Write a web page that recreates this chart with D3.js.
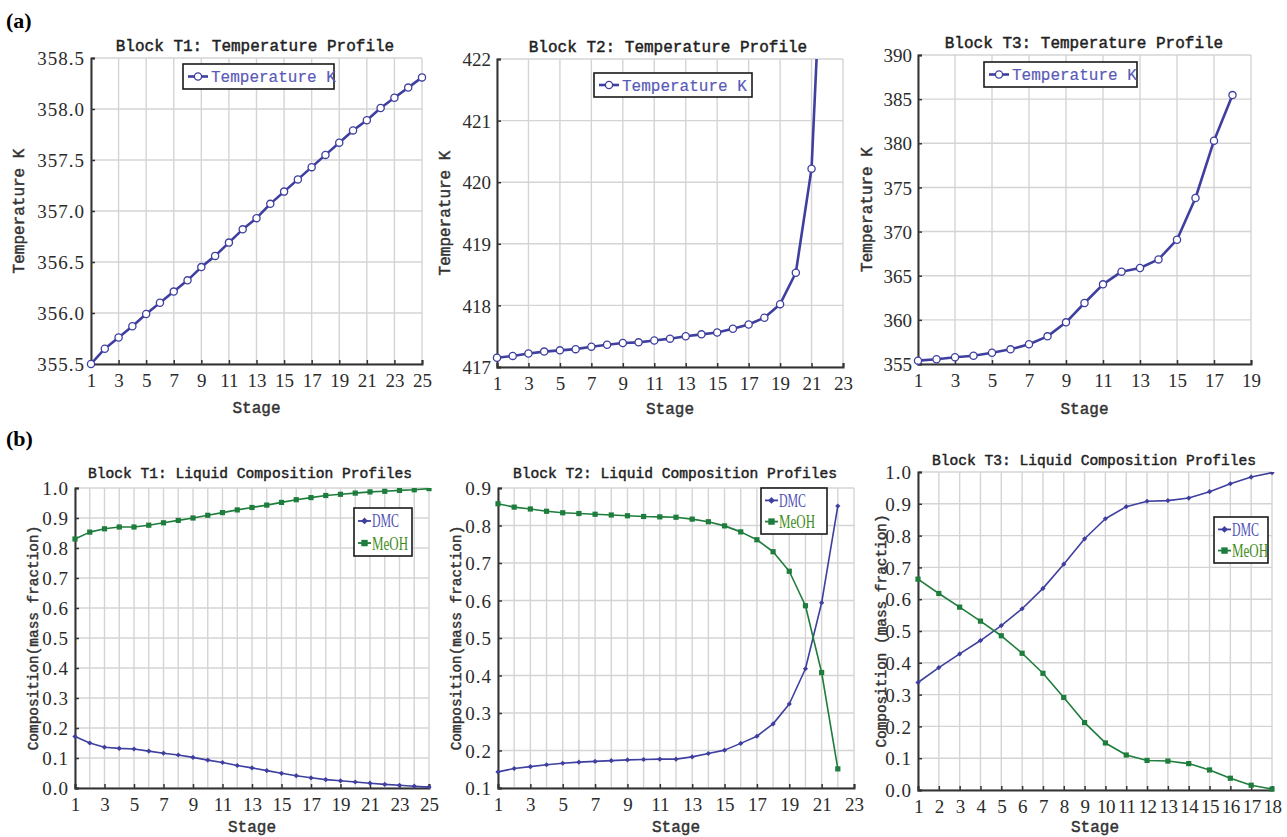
<!DOCTYPE html>
<html>
<head>
<meta charset="utf-8">
<script src="https://cdn.jsdelivr.net/npm/d3@7"></script>
<style>
  body { margin: 0; background: #fff; }
  svg { display: block; }
</style>
</head>
<body>
<div id="graf"></div>
<script>
// stages
var stagesT1 = d3.range(1, 26),
    stagesT2 = d3.range(1, 23),
    stagesT3 = d3.range(1, 19);

// temperature profiles (K)
var tempT1 = [355.50, 355.65, 355.76, 355.87, 355.99, 356.10, 356.21, 356.32, 356.45, 356.56,
              356.69, 356.82, 356.93, 357.07, 357.19, 357.31, 357.43, 357.55, 357.67, 357.79,
              357.89, 358.01, 358.11, 358.21, 358.31];
var tempT2 = [417.15, 417.18, 417.22, 417.25, 417.27, 417.29, 417.33, 417.36, 417.39, 417.40,
              417.43, 417.46, 417.50, 417.53, 417.56, 417.62, 417.69, 417.80, 418.02, 418.53,
              420.22, 425.80];
var tempT3 = [355.38, 355.53, 355.76, 355.94, 356.28, 356.66, 357.23, 358.13, 359.72, 361.91,
              364.02, 365.46, 365.87, 366.85, 369.08, 373.80, 380.30, 385.46];

// liquid composition (mass fraction)
var dmcT1  = [0.172, 0.150, 0.136, 0.132, 0.130, 0.123, 0.116, 0.110, 0.102, 0.093,
              0.085, 0.075, 0.067, 0.058, 0.049, 0.041, 0.034, 0.028, 0.024, 0.020,
              0.016, 0.012, 0.009, 0.006, 0.003];
var meohT1 = [0.830, 0.853, 0.864, 0.870, 0.870, 0.876, 0.884, 0.892, 0.900, 0.909,
              0.918, 0.927, 0.935, 0.943, 0.952, 0.961, 0.968, 0.975, 0.979, 0.983,
              0.987, 0.989, 0.992, 0.994, 0.998];
var dmcT2  = [0.143, 0.152, 0.157, 0.162, 0.166, 0.169, 0.171, 0.173, 0.175, 0.176,
              0.177, 0.177, 0.183, 0.192, 0.201, 0.219, 0.238, 0.271, 0.324, 0.418,
              0.594, 0.852];
var meohT2 = [0.858, 0.849, 0.844, 0.838, 0.834, 0.832, 0.830, 0.828, 0.826, 0.824,
              0.823, 0.822, 0.817, 0.810, 0.799, 0.783, 0.762, 0.730, 0.678, 0.586,
              0.408, 0.151];
var dmcT3  = [0.338, 0.385, 0.428, 0.470, 0.517, 0.570, 0.634, 0.710, 0.790, 0.853,
              0.891, 0.908, 0.910, 0.918, 0.938, 0.963, 0.984, 0.998];
var meohT3 = [0.663, 0.618, 0.575, 0.531, 0.485, 0.430, 0.367, 0.291, 0.212, 0.148,
              0.110, 0.093, 0.091, 0.083, 0.063, 0.037, 0.015, 0.003];

var azul = "#3f3fa0",
    verde = "#1e7d3c",
    fonteMono = "'Liberation Mono', 'Courier New', monospace",
    fonteSerif = "'Liberation Serif', 'Times New Roman', serif";

var svg = d3.select("#graf").append("svg")
    .attr("width", 1287)
    .attr("height", 837);

var paineis = [
    {id: "p1", titulo: "Block T1: Temperature Profile", yTitulo: "Temperature K",
     box: [91, 58, 422, 364], xDom: [1, 25], xPasso: 2, gridX: 2, yDom: [355.5, 358.5], yPasso: 0.5, fmt: ".1f",
     tituloX: 255, tituloY: 51, yTituloX: 18, stageY: 413,
     series: [{nome: "Temperature K", x: stagesT1, y: tempT1, cor: azul, marca: "circulo"}],
     legenda: {x: 183, y: 64, w: 151, h: 25, tipo: "topo"}},
    {id: "p2", titulo: "Block T2: Temperature Profile", yTitulo: "Temperature K",
     box: [497, 59, 843, 367], xDom: [1, 23], xPasso: 2, gridX: 2, yDom: [417, 422], yPasso: 1, fmt: "d",
     tituloX: 668, tituloY: 52, yTituloX: 444, stageY: 414,
     series: [{nome: "Temperature K", x: stagesT2, y: tempT2, cor: azul, marca: "circulo"}],
     legenda: {x: 594, y: 73, w: 158, h: 24, tipo: "topo"}},
    {id: "p3", titulo: "Block T3: Temperature Profile", yTitulo: "Temperature K",
     box: [918, 55, 1251, 364], xDom: [1, 19], xPasso: 2, gridX: 2, yDom: [355, 390], yPasso: 5, fmt: "d",
     tituloX: 1084, tituloY: 48, yTituloX: 866, stageY: 414,
     series: [{nome: "Temperature K", x: stagesT3, y: tempT3, cor: azul, marca: "circulo"}],
     legenda: {x: 984, y: 62, w: 153, h: 25, tipo: "topo"}},
    {id: "p4", titulo: "Block T1: Liquid Composition Profiles", yTitulo: "Composition(mass fraction)",
     box: [75, 488, 429, 788], xDom: [1, 25], xPasso: 2, gridX: 1, yDom: [0, 1], yPasso: 0.1, fmt: ".1f",
     tituloX: 250, tituloY: 478, yTituloX: 33, stageY: 832,
     series: [{nome: "DMC", x: stagesT1, y: dmcT1, cor: azul, marca: "losango"},
              {nome: "MeOH", x: stagesT1, y: meohT1, cor: verde, marca: "quadrado"}],
     legenda: {x: 354, y: 508, w: 58, h: 48, tipo: "baixo"}},
    {id: "p5", titulo: "Block T2: Liquid Composition Profiles", yTitulo: "Composition(mass fraction)",
     box: [498, 488, 854, 788], xDom: [1, 23], xPasso: 2, gridX: 1, yDom: [0.1, 0.9], yPasso: 0.1, fmt: ".1f",
     tituloX: 675, tituloY: 478, yTituloX: 456, stageY: 832,
     series: [{nome: "DMC", x: stagesT2, y: dmcT2, cor: azul, marca: "losango"},
              {nome: "MeOH", x: stagesT2, y: meohT2, cor: verde, marca: "quadrado"}],
     legenda: {x: 761, y: 488, w: 66, h: 46, tipo: "baixo"}},
    {id: "p6", titulo: "Block T3: Liquid Composition Profiles", yTitulo: "Composition (mass fraction)",
     box: [918, 472, 1272, 790], xDom: [1, 18], xPasso: 1, gridX: 1, yDom: [0, 1], yPasso: 0.1, fmt: ".1f",
     tituloX: 1094, tituloY: 465, yTituloX: 881, stageY: 832,
     series: [{nome: "DMC", x: stagesT3, y: dmcT3, cor: azul, marca: "losango"},
              {nome: "MeOH", x: stagesT3, y: meohT3, cor: verde, marca: "quadrado"}],
     legenda: {x: 1214, y: 517, w: 54, h: 46, tipo: "baixo"}}
];

function passos(dom, passo) {
    var n = Math.round((dom[1] - dom[0]) / passo);
    return d3.range(n + 1).map(function(i) { return +(dom[0] + i * passo).toFixed(4); });
}

function desenhaMarca(g, tipo, cx, cy, cor, grande) {
    if (tipo == "circulo") {
        g.append("circle").attr("cx", cx).attr("cy", cy).attr("r", 3.6)
            .attr("fill", "#fff").attr("stroke", cor).attr("stroke-width", 1.3);
    } else if (tipo == "losango") {
        var s = grande ? 3.4 : 2.6;
        g.append("path")
            .attr("d", "M" + cx + "," + (cy - s) + "L" + (cx + s) + "," + cy + "L" + cx + "," + (cy + s) + "L" + (cx - s) + "," + cy + "Z")
            .attr("fill", cor);
    } else {
        var q = grande ? 3.2 : 2.6;
        g.append("rect").attr("x", cx - q).attr("y", cy - q).attr("width", 2 * q).attr("height", 2 * q)
            .attr("fill", cor);
    }
}

// texto monoespaçado com traço leve para engrossar
function textoMono(sel, tam, cor, traco) {
    return sel.attr("fill", cor).attr("stroke", cor).attr("stroke-width", traco == null ? 0.45 : traco)
        .style("font-family", fonteMono).style("font-size", tam + "px");
}

function desenhaPainel(p) {
    var x0 = p.box[0], y0 = p.box[1], x1 = p.box[2], y1 = p.box[3];
    var x = d3.scaleLinear().domain(p.xDom).range([x0, x1]);
    var y = d3.scaleLinear().domain(p.yDom).range([y1, y0]);
    var g = svg.append("g").attr("id", p.id);
    var topo = p.legenda.tipo == "topo";

    // grade
    var gx = passos(p.xDom, p.gridX), gy = passos(p.yDom, p.yPasso);
    g.selectAll(".gx").data(gx).enter().append("line")
        .attr("x1", function(d) { return x(d); }).attr("x2", function(d) { return x(d); })
        .attr("y1", y0).attr("y2", y1)
        .attr("stroke", "#d4d4d4").attr("stroke-width", 1.4);
    g.selectAll(".gy").data(gy).enter().append("line")
        .attr("y1", function(d) { return y(d); }).attr("y2", function(d) { return y(d); })
        .attr("x1", x0).attr("x2", x1)
        .attr("stroke", "#d4d4d4").attr("stroke-width", 1.4);

    // eixos
    var eixoX = d3.axisBottom(x).tickValues(passos(p.xDom, p.xPasso)).tickSize(-4).tickPadding(9)
        .tickFormat(d3.format("d"));
    var eixoY = d3.axisLeft(y).tickValues(gy).tickSize(-4).tickPadding(6)
        .tickFormat(d3.format(p.fmt));
    var ax = g.append("g").attr("transform", "translate(0," + y1 + ")").call(eixoX);
    var ay = g.append("g").attr("transform", "translate(" + x0 + ",0)").call(eixoY);
    [ax, ay].forEach(function(a) {
        a.attr("font-family", null).attr("font-size", null);
        a.select(".domain").attr("stroke", "#333").attr("stroke-width", 2);
        a.selectAll(".tick line").attr("stroke", "#333").attr("stroke-width", 1.5);
        a.selectAll(".tick text").attr("fill", "#2b2b2b")
            .style("font-family", fonteSerif).style("font-size", "19px");
    });
    ay.selectAll(".tick text").attr("dy", "0.35em").style("letter-spacing", p.fmt == "d" ? "0px" : "1px");
    ax.selectAll(".tick text").attr("dy", "0.75em");
    if (p.xPasso == 1) ax.selectAll(".tick text").style("letter-spacing", "-0.5px");

    // titulos
    textoMono(g.append("text").text(p.titulo), topo ? 16 : 14.6, "#222")
        .attr("x", p.tituloX).attr("y", p.tituloY)
        .attr("text-anchor", "middle");
    textoMono(g.append("text").text("Stage"), 16, "#333")
        .attr("x", (x0 + x1) / 2).attr("y", p.stageY)
        .attr("text-anchor", "middle");
    textoMono(g.append("text").text(p.yTitulo), topo ? 16 : 14.4, "#333")
        .attr("transform", "translate(" + p.yTituloX + "," + ((y0 + y1) / 2) + ") rotate(-90)")
        .attr("text-anchor", "middle").attr("dy", "0.35em");

    // series
    g.append("clipPath").attr("id", "clip-" + p.id).append("rect")
        .attr("x", x0 - 6).attr("y", y0).attr("width", x1 - x0 + 12).attr("height", y1 - y0 + 6);
    var area = g.append("g").attr("clip-path", "url(#clip-" + p.id + ")");
    p.series.forEach(function(s) {
        var pts = s.x.map(function(d, i) { return [d, s.y[i]]; });
        var linha = d3.line().x(function(d) { return x(d[0]); }).y(function(d) { return y(d[1]); });
        area.append("path").datum(pts).attr("d", linha)
            .attr("fill", "none").attr("stroke", s.cor)
            .attr("stroke-width", topo ? 2.6 : 1.6).attr("stroke-linejoin", "round");
        pts.forEach(function(d) {
            if (y(d[1]) >= y0) desenhaMarca(area, s.marca, x(d[0]), y(d[1]), s.cor, false);
        });
    });

    // legenda
    var L = p.legenda;
    var lg = g.append("g");
    lg.append("rect").attr("x", L.x).attr("y", L.y).attr("width", L.w).attr("height", L.h)
        .attr("fill", "#fff").attr("stroke", "#1a1a1a").attr("stroke-width", 1.6);
    if (topo) {
        var s0 = p.series[0], cy = L.y + L.h / 2;
        lg.append("line").attr("x1", L.x + 5).attr("x2", L.x + 25).attr("y1", cy).attr("y2", cy)
            .attr("stroke", s0.cor).attr("stroke-width", 2.6);
        desenhaMarca(lg, "circulo", L.x + 15, cy, s0.cor, false);
        textoMono(lg.append("text").text(s0.nome), 16, "#5a5ab8", 0.2)
            .attr("x", L.x + 28).attr("y", cy).attr("dy", "0.36em");
    } else {
        var cores = ["#5050b4", "#3f8c22"];
        p.series.forEach(function(s, i) {
            var cy = L.y + L.h * (i == 0 ? 0.27 : 0.73);
            lg.append("line").attr("x1", L.x + 4).attr("x2", L.x + 17).attr("y1", cy).attr("y2", cy)
                .attr("stroke", s.cor).attr("stroke-width", 1.8);
            desenhaMarca(lg, s.marca, L.x + 10.5, cy, s.cor, true);
            lg.append("text").text(s.nome).attr("x", L.x + 18).attr("y", cy).attr("dy", "0.36em")
                .attr("fill", cores[i])
                .attr("textLength", i == 0 ? 27 : 36).attr("lengthAdjust", "spacingAndGlyphs")
                .style("font-family", fonteSerif).style("font-size", "18px");
        });
    }
}

paineis.forEach(desenhaPainel);

svg.append("text").text("(a)").attr("x", 6).attr("y", 28)
    .style("font-family", fonteSerif).style("font-size", "22px").style("font-weight", "bold");
svg.append("text").text("(b)").attr("x", 6).attr("y", 446)
    .style("font-family", fonteSerif).style("font-size", "22px").style("font-weight", "bold");
</script>
</body>
</html>
